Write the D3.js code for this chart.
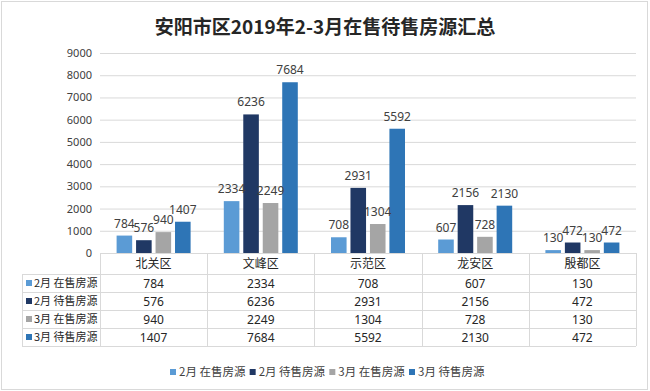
<!DOCTYPE html>
<html>
<head>
<meta charset="utf-8">
<script src="https://cdn.jsdelivr.net/npm/d3@7"></script>
<style>
  body { margin: 0; background: #fff; }
  svg { display: block; font-family: "Noto Sans CJK SC", "Noto Sans", sans-serif; }
</style>
</head>
<body>
<div id="chart"></div>
<script>
const districts = ['北关区', '文峰区', '示范区', '龙安区', '殷都区'];
const seriesNames = ['2月 在售房源', '2月 待售房源', '3月 在售房源', '3月 待售房源'];
const febOnSale = [784, 2334, 708, 607, 130];
const febPending = [576, 6236, 2931, 2156, 472];
const marOnSale = [940, 2249, 1304, 728, 130];
const marPending = [1407, 7684, 5592, 2130, 472];
const yTicks = [0, 1000, 2000, 3000, 4000, 5000, 6000, 7000, 8000, 9000];
const colors = ['#5b9bd5', '#203864', '#a5a5a5', '#2e75b6'];

const seriesValues = [febOnSale, febPending, marOnSale, marPending];

const width = 650, height = 391;
const plotLeft = 100, plotRight = 636, plotTop = 53, plotBottom = 253;
const rowH = 18, headerH = 21;

const svg = d3.select('#chart').append('svg')
  .attr('width', width)
  .attr('height', height);

// outer frame
svg.append('rect')
  .attr('x', 1.5).attr('y', 1.5)
  .attr('width', width - 4).attr('height', height - 3)
  .attr('fill', 'none')
  .attr('stroke', '#d9d9d9');

// title
svg.append('text')
  .attr('x', width / 2).attr('y', 34)
  .attr('text-anchor', 'middle')
  .style('font-size', '19px')
  .style('font-weight', 'bold')
  .attr('fill', '#262626')
  .text('安阳市区2019年2-3月在售待售房源汇总');

const x0 = d3.scaleBand().domain(districts).range([plotLeft, plotRight]);
const groupPad = (x0.bandwidth() - 74) / 2;
const x1 = d3.scaleBand().domain(seriesNames)
  .range([groupPad, x0.bandwidth() - groupPad])
  .paddingInner(0.2);
const y = d3.scaleLinear().domain([0, 9000]).range([plotBottom, plotTop]);

// grid + y labels
const yAxis = svg.append('g')
  .attr('transform', `translate(${plotLeft},0)`)
  .call(d3.axisLeft(y).tickValues(yTicks).tickFormat(d3.format('d'))
    .tickSize(-(plotRight - plotLeft)).tickPadding(8));
yAxis.select('.domain').remove();
yAxis.selectAll('.tick line').attr('stroke', '#d9d9d9');
yAxis.selectAll('.tick text')
  .attr('fill', '#404040')
  .style('font-size', '11px')
  .style('font-family', '"Noto Sans", sans-serif');

// bars
const groups = svg.append('g').selectAll('g')
  .data(districts)
  .join('g')
  .attr('transform', d => `translate(${x0(d)},0)`);

groups.selectAll('rect')
  .data((d, i) => seriesNames.map((s, k) => ({ s, k, v: seriesValues[k][i] })))
  .join('rect')
  .attr('x', d => x1(d.s))
  .attr('y', d => y(d.v))
  .attr('width', x1.bandwidth())
  .attr('height', d => plotBottom - y(d.v))
  .attr('fill', d => colors[d.k]);

groups.selectAll('text')
  .data((d, i) => seriesNames.map((s, k) => ({ s, k, v: seriesValues[k][i] })))
  .join('text')
  .attr('x', d => x1(d.s) + x1.bandwidth() / 2)
  .attr('y', d => y(d.v) - 8)
  .attr('text-anchor', 'middle')
  .attr('fill', '#404040')
  .style('font-size', '12px')
  .style('font-family', '"Noto Sans", sans-serif')
  .text(d => d.v);

// data table
const table = svg.append('g');
const tableLeft = 22;
const rowTop = plotBottom + headerH;
const tableBottom = rowTop + rowH * seriesNames.length;
const lineColor = '#d9d9d9';

table.append('line')
  .attr('x1', plotLeft).attr('x2', plotRight)
  .attr('y1', plotBottom + 0.5).attr('y2', plotBottom + 0.5)
  .attr('stroke', lineColor);
for (let r = 0; r <= seriesNames.length; r++) {
  const yy = rowTop + r * rowH + 0.5;
  table.append('line')
    .attr('x1', tableLeft).attr('x2', plotRight)
    .attr('y1', yy).attr('y2', yy)
    .attr('stroke', lineColor);
}
table.append('line')
  .attr('x1', tableLeft + 0.5).attr('x2', tableLeft + 0.5)
  .attr('y1', rowTop).attr('y2', tableBottom)
  .attr('stroke', lineColor);
districts.concat(['end']).forEach((d, i) => {
  const xx = Math.round(plotLeft + i * x0.bandwidth()) + 0.5;
  table.append('line')
    .attr('x1', xx).attr('x2', xx)
    .attr('y1', plotBottom).attr('y2', tableBottom)
    .attr('stroke', lineColor);
});

table.selectAll('.hdr')
  .data(districts)
  .join('text')
  .attr('x', d => x0(d) + x0.bandwidth() / 2)
  .attr('y', plotBottom + 15)
  .attr('text-anchor', 'middle')
  .attr('fill', '#262626')
  .style('font-size', '12px')
  .text(d => d);

seriesNames.forEach((s, k) => {
  const cy = rowTop + k * rowH + rowH / 2;
  table.append('rect')
    .attr('x', 26).attr('y', cy - 3)
    .attr('width', 6).attr('height', 6)
    .attr('fill', colors[k]);
  table.append('text')
    .attr('x', 34).attr('y', cy + 4)
    .attr('fill', '#262626')
    .style('font-size', '11px')
    .text(s);
  table.selectAll(null)
    .data(seriesValues[k])
    .join('text')
    .attr('x', (v, i) => x0(districts[i]) + x0.bandwidth() / 2)
    .attr('y', cy + 4.5)
    .attr('text-anchor', 'middle')
    .attr('fill', '#262626')
    .style('font-size', '12px')
    .style('font-family', '"Noto Sans", sans-serif')
    .text(v => v);
});

// legend
const legend = svg.append('g').attr('transform', 'translate(170,372)');
const lx = d3.scalePoint().domain(seriesNames).range([0, 239]);
const items = legend.selectAll('g')
  .data(seriesNames)
  .join('g')
  .attr('transform', d => `translate(${lx(d)},0)`);
items.append('rect')
  .attr('x', 0).attr('y', -3)
  .attr('width', 6).attr('height', 6)
  .attr('fill', (d, i) => colors[i]);
items.append('text')
  .attr('x', 9).attr('y', 4)
  .attr('fill', '#404040')
  .style('font-size', '11.5px')
  .text(d => d);
</script>
</body>
</html>
